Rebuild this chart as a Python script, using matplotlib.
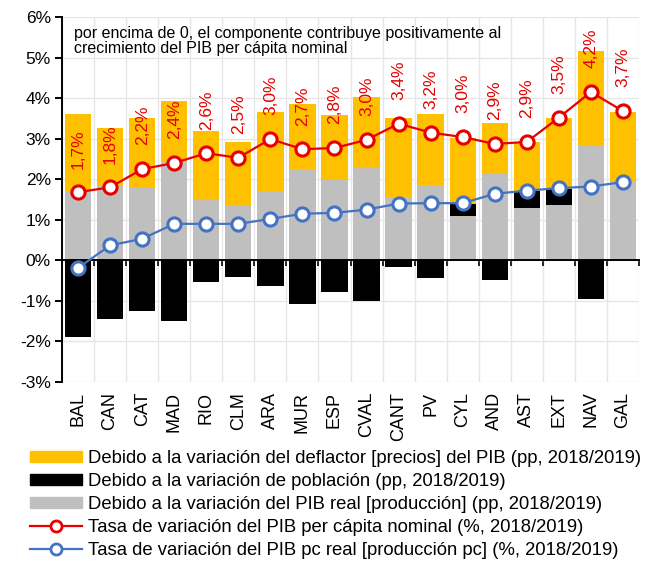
import numpy as np
import matplotlib.pyplot as plt
from matplotlib.ticker import FuncFormatter
from matplotlib.lines import Line2D
from matplotlib.patches import Patch

plt.rcParams['font.family'] = ['Liberation Sans', 'DejaVu Sans']

# datos (pp y %)
regiones = ['BAL', 'CAN', 'CAT', 'MAD', 'RIO', 'CLM', 'ARA', 'MUR', 'ESP',
            'CVAL', 'CANT', 'PV', 'CYL', 'AND', 'AST', 'EXT', 'NAV', 'GAL']
pib_real = [1.72, 1.84, 1.81, 2.45, 1.48, 1.33, 1.68, 2.25, 1.98,
            2.29, 1.54, 1.86, 1.10, 2.14, 1.29, 1.37, 2.83, 1.92]
poblacion = [-1.90, -1.44, -1.24, -1.49, -0.53, -0.40, -0.64, -1.07, -0.79,
             -1.01, -0.16, -0.43, 0.30, -0.49, 0.41, 0.39, -0.96, 0.0]
deflactor = [1.89, 1.42, 1.70, 1.48, 1.71, 1.59, 1.97, 1.60, 1.60,
             1.73, 1.97, 1.75, 1.61, 1.24, 1.21, 1.76, 2.34, 1.74]
nominal_pc = [1.68, 1.80, 2.25, 2.40, 2.64, 2.53, 2.99, 2.74, 2.77,
              2.97, 3.37, 3.15, 3.04, 2.87, 2.92, 3.52, 4.15, 3.68]
real_pc = [-0.19, 0.37, 0.53, 0.90, 0.90, 0.90, 1.02, 1.15, 1.17,
           1.25, 1.40, 1.41, 1.41, 1.64, 1.72, 1.78, 1.82, 1.93]
etiquetas = ['1,7%', '1,8%', '2,2%', '2,4%', '2,6%', '2,5%', '3,0%', '2,7%', '2,8%',
             '3,0%', '3,4%', '3,2%', '3,0%', '2,9%', '2,9%', '3,5%', '4,2%', '3,7%']

AMARILLO = '#FFC000'
GRIS = '#BFBFBF'
ROJO = '#E60000'
AZUL = '#4472C4'

x = np.arange(len(regiones))
real_arr = np.array(pib_real)
pob_arr = np.array(poblacion)
pob_pos = np.clip(pob_arr, 0, None)
pob_bottom = np.where(pob_arr > 0, real_arr, 0)

fig = plt.figure(figsize=(6.48, 5.67), dpi=100)
ax = fig.add_axes([0.0957, 0.3263, 0.8904, 0.6437])

# barras apiladas
ax.bar(x, pib_real, width=0.82, color=GRIS, zorder=2)
ax.bar(x, poblacion, width=0.82, bottom=pob_bottom, color='black', zorder=2)
ax.bar(x, deflactor, width=0.82, bottom=real_arr + pob_pos, color=AMARILLO, zorder=2)

# lineas
ax.plot(x, nominal_pc, '-o', color=ROJO, lw=1.6, ms=9.5, mfc='white', mec=ROJO, mew=2.2, zorder=4)
ax.plot(x, real_pc, '-o', color=AZUL, lw=1.6, ms=9.5, mfc='white', mec=AZUL, mew=2.2, zorder=4)

for xi, yi, txt in zip(x, nominal_pc, etiquetas):
    ax.annotate(txt, (xi, yi), xytext=(0, 17), textcoords='offset points',
                rotation=90, ha='center', va='bottom', color=ROJO, fontsize=12.5, zorder=5)

ax.text(0.02, 0.975, 'por encima de 0, el componente contribuye positivamente al\n'
        'crecimiento del PIB per cápita nominal', transform=ax.transAxes,
        ha='left', va='top', fontsize=11.5, linespacing=1.0, zorder=5)

# ejes
ax.set_xlim(-0.5, len(regiones) - 0.5)
ax.set_ylim(-3, 6)
ax.set_yticks(np.arange(-3, 7, 1))
ax.yaxis.set_major_formatter(FuncFormatter(lambda v, p: f'{v:.0f}%'))
ax.tick_params(axis='y', direction='out', length=5, width=1.4, labelsize=12.5, pad=3)
ax.grid(axis='y', color='#E6E6E6', lw=1, zorder=0)

ax.set_xticks([])
ax.set_xticks(np.arange(-0.5, len(regiones), 1), minor=True)
ax.tick_params(axis='x', which='minor', direction='out', length=4, width=1.2, labelbottom=False)
ax.grid(axis='x', which='minor', color='#E6E6E6', lw=1, zorder=0)

ax.spines['top'].set_visible(False)
ax.spines['right'].set_visible(False)
ax.spines['left'].set_linewidth(1.4)
ax.spines['bottom'].set_position(('data', 0))
ax.spines['bottom'].set_linewidth(1.4)
ax.spines['bottom'].set_zorder(3)

sec = ax.secondary_xaxis('bottom')
sec.set_xticks(x, regiones, rotation=90)
sec.tick_params(length=0, labelsize=13, pad=7)
sec.spines['bottom'].set_visible(False)

# leyenda
handles = [
    Patch(color=AMARILLO),
    Patch(color='black'),
    Patch(color=GRIS),
    Line2D([], [], color=ROJO, lw=1.6, marker='o', ms=8, mfc='white', mec=ROJO, mew=2),
    Line2D([], [], color=AZUL, lw=1.6, marker='o', ms=8, mfc='white', mec=AZUL, mew=2),
]
labels = [
    'Debido a la variación del deflactor [precios] del PIB (pp, 2018/2019)',
    'Debido a la variación de población (pp, 2018/2019)',
    'Debido a la variación del PIB real [producción] (pp, 2018/2019)',
    'Tasa de variación del PIB per cápita nominal (%, 2018/2019)',
    'Tasa de variación del PIB pc real [producción pc] (%, 2018/2019)',
]
fig.legend(handles, labels, loc='upper left', bbox_to_anchor=(0.046, 0.206), frameon=False,
           fontsize=13.3, handlelength=2.85, handleheight=0.55, handletextpad=0.3,
           labelspacing=0.32, borderpad=0, borderaxespad=0)

fig.savefig('out.png', dpi=100)
